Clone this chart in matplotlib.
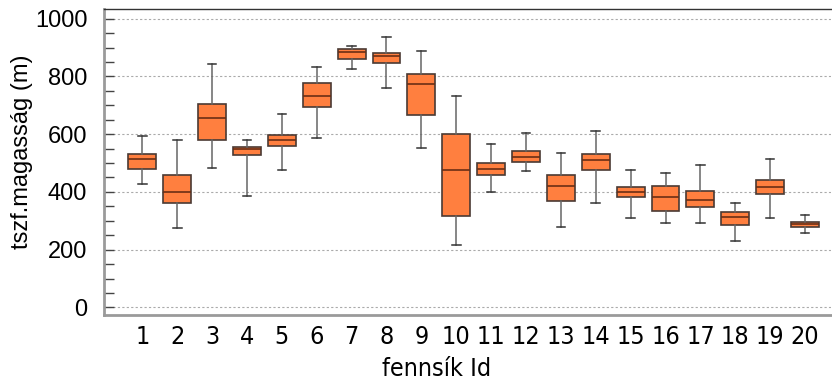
import matplotlib
matplotlib.use("Agg")
import matplotlib.pyplot as plt
from matplotlib.ticker import MultipleLocator

ids = list(range(1, 21))
whislo = [429, 275, 483, 386, 475, 585, 827, 761, 551, 215, 398, 473, 280, 363, 310, 293, 291, 230, 308, 257]
q1 = [478, 361, 579, 529, 559, 695, 862, 847, 666, 318, 457, 503, 370, 475, 381, 333, 346, 287, 394, 280]
med = [514, 401, 656, 548, 580, 732, 885, 870, 772, 475, 478, 522, 422, 512, 399, 381, 371, 314, 416, 288]
q3 = [532, 460, 705, 554, 597, 777, 894, 882, 810, 601, 501, 541, 457, 531, 416, 422, 404, 332, 442, 296]
whishi = [592, 581, 844, 579, 670, 833, 907, 938, 888, 732, 566, 604, 535, 611, 475, 465, 494, 363, 514, 321]

stats = [
    {"whislo": a, "q1": b, "med": c, "q3": d, "whishi": e, "fliers": []}
    for a, b, c, d, e in zip(whislo, q1, med, q3, whishi)
]

fig = plt.figure(figsize=(8.32, 3.81), dpi=100)
ax = fig.add_axes([0.125, 0.172, 0.874, 0.804])

ax.bxp(stats, positions=ids, widths=0.8, patch_artist=True, showfliers=False,
       boxprops=dict(facecolor="#ff7f3f", edgecolor="#4a3a33", linewidth=1.2),
       medianprops=dict(color="#6b2e14", linewidth=1.2),
       whiskerprops=dict(color="#666666", linewidth=1.1),
       capprops=dict(color="#333333", linewidth=1.1),
       capwidths=0.25)

ax.set_xlim(-0.1, 20.75)
ax.set_ylim(-28, 1033)
ax.yaxis.set_major_locator(MultipleLocator(200))
ax.yaxis.set_minor_locator(MultipleLocator(50))
ax.grid(axis="y", which="major", color="#aaaaaa", linestyle=(0, (2, 2)), linewidth=0.8)
ax.set_axisbelow(True)

ax.tick_params(axis="y", which="both", direction="in", length=7, width=1, color="#444444",
               left=True, right=False, labelsize=17, pad=12)
ax.tick_params(axis="x", which="both", length=0, pad=7)
ax.set_xticks(ids)
narrow = {"family": "DejaVu Sans", "stretch": "condensed", "size": 18}
ax.set_xticklabels([str(i) for i in ids], fontdict=narrow)
for lab in ax.get_yticklabels():
    lab.set_family("Liberation Sans")

ax.spines["left"].set_color("#9a9a9a")
ax.spines["left"].set_linewidth(2)
ax.spines["bottom"].set_color("#9a9a9a")
ax.spines["bottom"].set_linewidth(2)
ax.spines["top"].set_color("#333333")
ax.spines["top"].set_linewidth(1)
ax.spines["right"].set_visible(False)

ax.set_ylabel("tszf.magasság (m)", fontsize=17, family="Liberation Sans", labelpad=6)
ax.yaxis.set_label_coords(-0.098, 0.534)
ax.set_xlabel("fennsík Id", fontdict=narrow, labelpad=6)
ax.xaxis.set_label_coords(0.458, -0.135)

fig.savefig("out.png", dpi=100)
